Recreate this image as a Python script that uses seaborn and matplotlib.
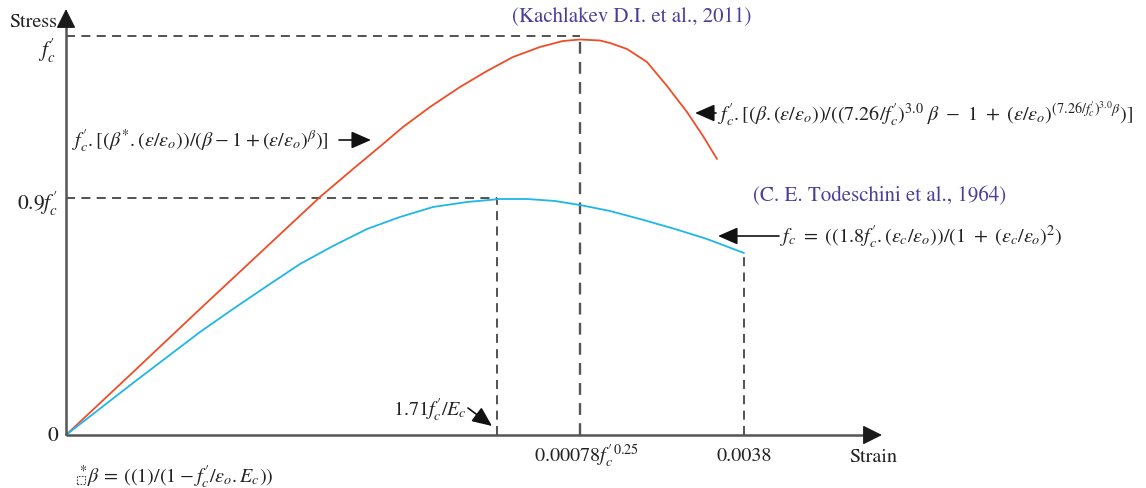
import matplotlib
matplotlib.use("Agg")
import matplotlib.pyplot as plt
import seaborn as sns
import pandas as pd
from matplotlib.patches import Rectangle

# ---- data (schematic units) ----
red_strain = [0, 0.64, 1.34, 1.94, 2.54, 2.87, 3.14, 3.37, 3.64, 3.94, 4.21, 4.47, 4.74, 4.97, 5.14,
              5.34, 5.44, 5.61, 5.81, 6.01, 6.21, 6.37, 6.51]
red_stress = [0, 0.60, 1.26, 1.82, 2.38, 2.66, 2.885, 3.08, 3.28, 3.48, 3.64, 3.78, 3.88, 3.94, 3.955,
              3.945, 3.92, 3.86, 3.73, 3.49, 3.23, 2.99, 2.76]
blue_strain = [0, 0.67, 1.34, 1.67, 2.01, 2.34, 2.67, 3.01, 3.34, 3.67, 4.01, 4.34, 4.61, 4.89, 5.14,
               5.44, 5.74, 6.09, 6.41, 6.78]
blue_stress = [0, 0.52, 1.03, 1.26, 1.49, 1.71, 1.89, 2.06, 2.18, 2.28, 2.33, 2.36, 2.36, 2.34, 2.30,
               2.24, 2.16, 2.06, 1.96, 1.82]

fc_level = 3.99          # f'c
fc09_level = 2.37        # 0.9 f'c
strain_09 = 4.31         # 1.71 f'c / Ec
strain_peak = 5.14       # 0.00078 f'c^0.25
strain_ult = 6.78        # 0.0038
stress_ult = 1.82

strain_tick_labels = [r"$0.00078f_c^{\prime\,0.25}$", "0.0038"]
stress_tick_labels = ["0", r"$0.9f_c^{\prime}$", r"$f_c^{\prime}$"]

RED = "#ef4d26"
BLUE = "#1fb6ea"
PURPLE = "#4a3f98"
TXT = "#222222"

sns.set_style("white")
plt.rcParams["font.family"] = ["STIXGeneral", "DejaVu Serif"]
plt.rcParams["mathtext.fontset"] = "stix"

fig = plt.figure(figsize=(11.46, 4.89), dpi=100)
ax = fig.add_axes([0, 0, 1, 1])
ax.set_xlim(-0.66, 10.80)
ax.set_ylim(-0.53, 4.36)
ax.axis("off")

df_red = pd.DataFrame({"strain": red_strain, "stress": red_stress})
df_blue = pd.DataFrame({"strain": blue_strain, "stress": blue_stress})
sns.lineplot(data=df_red, x="strain", y="stress", sort=False, estimator=None, color=RED, lw=1.3, ax=ax)
sns.lineplot(data=df_blue, x="strain", y="stress", sort=False, estimator=None, color=BLUE, lw=1.3, ax=ax)

# dashed reference lines
dkw = dict(color="#444444", lw=1.3, dashes=(5, 3.5), zorder=1)
ax.plot([0, strain_peak], [fc_level, fc_level], **dkw)
ax.plot([strain_peak, strain_peak], [0, fc_level], **{**dkw, "lw": 1.7, "color": "#555555"})
ax.plot([0, strain_09], [fc09_level, fc09_level], **dkw)
ax.plot([strain_09, strain_09], [0, fc09_level], **dkw)
ax.plot([strain_ult, strain_ult], [0, stress_ult], **dkw)

# axes with arrows
ax.plot([0, 8.05], [0, 0], color="#555555", lw=1.8, zorder=5, solid_capstyle="butt")
ax.plot([0, 0], [0, 4.15], color="#555555", lw=1.8, zorder=5, solid_capstyle="butt")
akw = dict(arrowstyle="-|>,head_length=0.8,head_width=0.4", color="#1a1a1a", lw=1.0, mutation_scale=15,
           shrinkA=0, shrinkB=0)
ax.annotate("", xy=(8.16, 0), xytext=(8.00, 0), arrowprops=akw, zorder=6)
ax.annotate("", xy=(0, 4.26), xytext=(0, 4.10), arrowprops=akw, zorder=6)

fs = 14.5
# axis labels and ticks
ax.text(-0.09, 4.14, "Stress", ha="right", va="center", fontsize=fs, color=TXT)
ax.text(-0.10, 3.85, stress_tick_labels[2], ha="right", va="center", fontsize=fs + 1, color=TXT)
ax.text(-0.08, fc09_level - 0.05, stress_tick_labels[1], ha="right", va="center", fontsize=fs + 1, color=TXT)
ax.text(-0.08, 0.0, stress_tick_labels[0], ha="right", va="center", fontsize=fs + 1, color=TXT)
ax.text(strain_peak + 0.06, -0.20, strain_tick_labels[0], ha="center", va="center", fontsize=fs, color=TXT)
ax.text(strain_ult, -0.20, strain_tick_labels[1], ha="center", va="center", fontsize=fs, color=TXT)
ax.text(8.07, -0.21, "Strain", ha="center", va="center", fontsize=fs, color=TXT)

# source labels
ax.text(5.66, 4.19, "(Kachlakev D.I. et al., 2011)", ha="center", va="center", fontsize=15, color=PURPLE)
ax.text(8.14, 2.40, "(C. E. Todeschini et al., 1964)", ha="center", va="center", fontsize=15, color=PURPLE)

# formulas with arrows
pkw = dict(arrowstyle="-|>,head_length=0.8,head_width=0.35", color="#111111", lw=1.2, mutation_scale=15,
           shrinkA=0, shrinkB=0)
ax.text(0.06, 2.95,
        r"$f_c^{\prime}.[(\beta^{*}.(\varepsilon/\varepsilon_o))/(\beta\:-\:1\:+\:(\varepsilon/\varepsilon_o)^{\beta})]$",
        ha="left", va="center", fontsize=fs, color=TXT)
ax.annotate("", xy=(3.05, 2.95), xytext=(2.73, 2.95), arrowprops=pkw)

ax.text(6.52, 3.22,
        r"$f_c^{\prime}.[(\beta.(\varepsilon/\varepsilon_o))/((7.26/f_c^{\prime})^{3.0}\ \beta\ -\ 1\ +\ (\varepsilon/\varepsilon_o)^{(7.26/f_c^{\prime})^{3.0}\beta})]$",
        ha="left", va="center", fontsize=fs, color=TXT)
ax.annotate("", xy=(6.29, 3.22), xytext=(6.50, 3.22), arrowprops=pkw)

ax.text(7.14, 1.99,
        r"$f_c\ =\ ((1.8f_c^{\prime}.(\varepsilon_c/\varepsilon_o))/(1\ +\ (\varepsilon_c/\varepsilon_o)^2)$",
        ha="left", va="center", fontsize=fs, color=TXT)
ax.annotate("", xy=(6.52, 1.99), xytext=(7.13, 1.99), arrowprops=pkw)

ax.text(4.01, 0.26, r"$1.71f_c^{\prime}/E_c$", ha="right", va="center", fontsize=fs, color=TXT)
ax.annotate("", xy=(4.26, 0.09), xytext=(4.02, 0.27), arrowprops=pkw)

# footnote
ax.add_patch(Rectangle((0.11, -0.49), 0.08, 0.08, fill=False, ls=(0, (1.5, 1.2)), lw=0.8, ec="#444444"))
ax.text(0.13, -0.41, r"$^{*}\beta\:=\:((1)/(1\:-\:f_c^{\prime}/\varepsilon_o.E_c))$", ha="left", va="center",
        fontsize=fs, color=TXT)

fig.savefig("out.png", dpi=100)
